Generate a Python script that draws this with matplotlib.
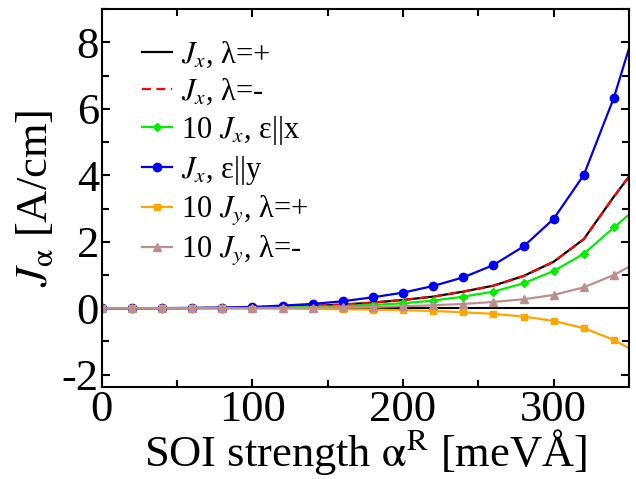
import numpy as np
import matplotlib
matplotlib.use("Agg")
import matplotlib.pyplot as plt
from matplotlib.ticker import MultipleLocator

plt.rcParams["font.family"] = ["Liberation Serif", "DejaVu Serif"]
plt.rcParams["mathtext.fontset"] = "stix"
plt.rcParams["axes.unicode_minus"] = False

# SOI strength alpha^R [meV A]
alpha = np.arange(0, 380, 20)

# current densities [A/cm]
jx_plus = [0, 0, 0, 0.005, 0.01, 0.02, 0.04, 0.07, 0.11, 0.17, 0.25, 0.35,
           0.50, 0.68, 0.97, 1.40, 2.08, 3.36, 4.56]
jx_minus = [0, 0, 0, 0.005, 0.01, 0.02, 0.04, 0.07, 0.11, 0.17, 0.25, 0.35,
            0.50, 0.68, 0.97, 1.40, 2.08, 3.36, 4.56]
jx_ex10 = [0, 0, 0, 0.003, 0.006, 0.012, 0.025, 0.04, 0.065, 0.10, 0.15, 0.23,
           0.35, 0.50, 0.75, 1.12, 1.64, 2.43, 3.20]
jx_ey = [0, 0, 0.005, 0.01, 0.02, 0.04, 0.08, 0.13, 0.21, 0.33, 0.47, 0.67,
         0.93, 1.30, 1.86, 2.69, 4.01, 6.34, 9.30]
jy_plus10 = [0, 0, 0, -0.002, -0.004, -0.008, -0.012, -0.02, -0.03, -0.04,
             -0.06, -0.08, -0.12, -0.17, -0.25, -0.38, -0.60, -0.95, -1.45]
jy_minus10 = [0, 0, 0, 0.002, 0.004, 0.008, 0.012, 0.02, 0.03, 0.04, 0.06,
              0.09, 0.13, 0.19, 0.27, 0.40, 0.63, 1.00, 1.50]

fig = plt.figure(figsize=(6.36, 4.79), dpi=100)
ax = fig.add_axes([0.160, 0.192, 0.829, 0.789])

ax.axhline(0, color="black", lw=1.5)
ax.plot(alpha, jx_plus, "-", color="black", lw=1.6, label=r"$J_x$, λ=+")
ax.plot(alpha, jx_minus, "--", color="red", lw=1.6, dashes=(4, 2.5), label=r"$J_x$, λ=-")
ax.plot(alpha, jx_ex10, "-D", color="#00ee00", lw=1.6, ms=4.5, label=r"10 $J_x$, ε||x")
ax.plot(alpha, jx_ey, "-o", color="#0000ee", lw=1.6, ms=6, label=r"$J_x$, ε||y")
ax.plot(alpha, jy_plus10, "-s", color="#ffa500", lw=1.6, ms=5, label=r"10 $J_y$, λ=+")
ax.plot(alpha, jy_minus10, "-^", color="#bc8f8f", lw=1.6, ms=5.5, label=r"10 $J_y$, λ=-")

ax.set_xlim(0, 350)
ax.set_ylim(-2.37, 9)
ax.xaxis.set_major_locator(MultipleLocator(100))
ax.xaxis.set_minor_locator(MultipleLocator(50))
ax.yaxis.set_major_locator(MultipleLocator(2))
ax.yaxis.set_minor_locator(MultipleLocator(1))
ax.tick_params(which="both", direction="in", top=True, right=True,
               width=1.5, labelsize=32)
ax.tick_params(which="major", length=6, pad=2)
ax.tick_params(which="minor", length=5)
for s in ax.spines.values():
    s.set_linewidth(1.5)

ax.set_xlabel(r"SOI strength $\mathrm{α}^{\mathrm{R}}$ [meVÅ]", fontsize=32, labelpad=-2)
ax.set_ylabel(r"$J_{\mathrm{α}}$ [A/cm]", fontsize=32, labelpad=4)

ax.legend(loc="upper left", frameon=False, fontsize=22, handlelength=1.0,
          handletextpad=0.3, labelspacing=0.22, borderaxespad=0.3,
          bbox_to_anchor=(0.035, 0.975))

fig.savefig("out.png", dpi=100)
